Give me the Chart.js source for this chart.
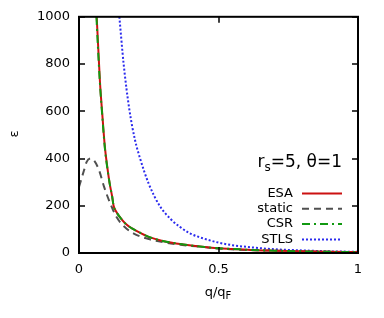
<!DOCTYPE html>
<html lang="en">
<head>
<meta charset="UTF-8">
<title>Dielectric function vs q</title>
<script src="https://cdn.jsdelivr.net/npm/chart.js"></script>
<style>
    html, body { margin: 0; padding: 0; background: #fff; }
    .chart-box { position: relative; width: 384px; height: 318px; }
</style>
</head>
<body>
<div class="chart-box"><canvas id="epsChart"></canvas></div>
<script>
const FONT = "'DejaVu Sans', sans-serif";

// values (q/qF, epsilon)
const esaQ   = [0.0634, 0.069, 0.075, 0.0835, 0.093, 0.1014, 0.110, 0.119, 0.124, 0.132, 0.146, 0.166, 0.190, 0.220, 0.255, 0.30, 0.374, 0.45, 0.50, 0.55, 0.613, 0.70, 0.80, 0.90, 1.0];
const esaEps = [1000, 868, 727, 587, 446, 364, 294, 238, 200, 178, 153, 125, 104, 85, 66, 51, 36, 25, 20, 17, 13, 10, 7, 5, 4];

const staticQ   = [0, 0.018, 0.027, 0.042, 0.055, 0.072, 0.090, 0.112, 0.134, 0.163, 0.195, 0.25, 0.30, 0.37, 0.45, 0.50, 0.60, 0.70, 0.80, 0.90, 1.0];
const staticEps = [280, 350, 385, 400, 390, 350, 280, 210, 153, 111, 83, 59, 46, 34, 25, 19, 13, 10, 7, 5, 4];

const csrQ   = [0.0625, 0.068, 0.0745, 0.083, 0.0925, 0.101, 0.110, 0.119, 0.124, 0.132, 0.146, 0.166, 0.190, 0.220, 0.255, 0.30, 0.374, 0.45, 0.50, 0.55, 0.613, 0.70, 0.80, 0.90, 1.0];
const csrEps = [1000, 868, 727, 587, 446, 364, 294, 238, 200, 178, 153, 125, 104, 85, 66, 51, 36, 25, 20, 17, 13, 10, 7, 5, 4];

const stlsQ   = [0.1446, 0.160, 0.180, 0.200, 0.219, 0.250, 0.289, 0.330, 0.360, 0.398, 0.450, 0.500, 0.550, 0.600, 0.700, 0.800, 0.900, 1.0];
const stlsEps = [1000, 800, 611, 482, 400, 293, 200, 142, 112, 83, 60, 44, 33, 26, 16, 11, 7, 5];

const xTicks = [0, 0.5, 1];
const yTicks = [0, 200, 400, 600, 800, 1000];

function pts(qs, es) {
    return qs.map((q, i) => ({ x: q, y: es[i] }));
}

// draws text with a subscript part: parts = [[text, isSub], ...]
function subText(ctx, parts, x, y, size, subSize, align) {
    let total = 0;
    parts.forEach(p => {
        ctx.font = (p[1] ? subSize : size) + 'px ' + FONT;
        total += ctx.measureText(p[0]).width;
    });
    let cx = align === 'right' ? x - total : align === 'center' ? x - total / 2 : x;
    ctx.textAlign = 'left';
    ctx.textBaseline = 'alphabetic';
    parts.forEach(p => {
        ctx.font = (p[1] ? subSize : size) + 'px ' + FONT;
        ctx.fillText(p[0], cx, p[1] ? y + size * 0.22 : y);
        cx += ctx.measureText(p[0]).width;
    });
}

const decor = {
    id: 'decor',
    afterDatasetsDraw(chart) {
        const { ctx, chartArea: a, scales: { x, y } } = chart;
        ctx.save();
        ctx.strokeStyle = '#000';
        ctx.fillStyle = '#000';

        // inward ticks, mirrored
        ctx.lineWidth = 1.5;
        ctx.beginPath();
        xTicks.forEach(v => {
            const px = Math.round(x.getPixelForValue(v));
            ctx.moveTo(px, a.bottom); ctx.lineTo(px, a.bottom - 6);
            ctx.moveTo(px, a.top); ctx.lineTo(px, a.top + 6);
        });
        yTicks.forEach(v => {
            const py = Math.round(y.getPixelForValue(v));
            ctx.moveTo(a.left, py); ctx.lineTo(a.left + 6, py);
            ctx.moveTo(a.right, py); ctx.lineTo(a.right - 6, py);
        });
        ctx.stroke();

        ctx.lineWidth = 2;
        ctx.strokeRect(a.left, a.top, a.right - a.left, a.bottom - a.top);

        // label inside the plot
        subText(ctx, [['r', false], ['s', true], ['=5, θ=1', false]], 342, 167, 17, 12, 'right');

        // legend: name on the left, line sample on the right
        ctx.font = '13px ' + FONT;
        chart.data.datasets.forEach((ds, i) => {
            const ly = 193.5 + i * 15.3;
            ctx.fillStyle = '#000';
            ctx.textAlign = 'right';
            ctx.textBaseline = 'middle';
            ctx.fillText(ds.label, 293, ly);
            ctx.strokeStyle = ds.borderColor;
            ctx.lineWidth = ds.borderWidth;
            ctx.setLineDash(ds.borderDash || []);
            ctx.beginPath();
            ctx.moveTo(302, ly);
            ctx.lineTo(342, ly);
            ctx.stroke();
        });
        ctx.setLineDash([]);

        // axis titles
        ctx.fillStyle = '#000';
        subText(ctx, [['q/q', false], ['F', true]], 218, 296, 13, 10, 'center');
        ctx.translate(15, 134);
        ctx.rotate(-Math.PI / 2);
        ctx.font = '13px ' + FONT;
        ctx.textAlign = 'center';
        ctx.textBaseline = 'middle';
        ctx.fillText('ε', 0, 0);
        ctx.restore();
    }
};

const common = {
    pointRadius: 0,
    borderWidth: 2,
    fill: false,
    showLine: true,
    cubicInterpolationMode: 'monotone'
};

new Chart(document.getElementById('epsChart'), {
    type: 'scatter',
    data: {
        datasets: [
            { ...common, label: 'ESA', data: pts(esaQ, esaEps), borderColor: '#cc1111', borderDash: [], order: 1 },
            { ...common, label: 'static', data: pts(staticQ, staticEps), borderColor: '#505050', borderDash: [7, 5], order: 2 },
            { ...common, label: 'CSR', data: pts(csrQ, csrEps), borderColor: '#119911', borderDash: [8, 4, 2, 4], order: 0 },
            { ...common, label: 'STLS', data: pts(stlsQ, stlsEps), borderColor: '#2b2bee', borderDash: [2, 2], order: 3 }
        ]
    },
    options: {
        responsive: true,
        maintainAspectRatio: false,
        animation: false,
        layout: { padding: { top: 16, right: 26, left: 0, bottom: 0 } },
        plugins: { legend: { display: false }, tooltip: { enabled: false } },
        scales: {
            x: {
                type: 'linear',
                min: 0,
                max: 1,
                grid: { display: false, drawTicks: false },
                border: { display: false },
                afterBuildTicks: s => { s.ticks = xTicks.map(v => ({ value: v })); },
                afterFit: s => { s.height = 65; },
                ticks: { padding: 9, color: '#000', font: { family: FONT, size: 13 }, callback: v => String(v) }
            },
            y: {
                type: 'linear',
                min: 0,
                max: 1000,
                grid: { display: false, drawTicks: false },
                border: { display: false },
                afterBuildTicks: s => { s.ticks = yTicks.map(v => ({ value: v })); },
                afterFit: s => { s.width = 79; },
                ticks: { padding: 9, color: '#000', font: { family: FONT, size: 13 }, callback: v => String(v) }
            }
        }
    },
    plugins: [decor]
});
</script>
</body>
</html>
